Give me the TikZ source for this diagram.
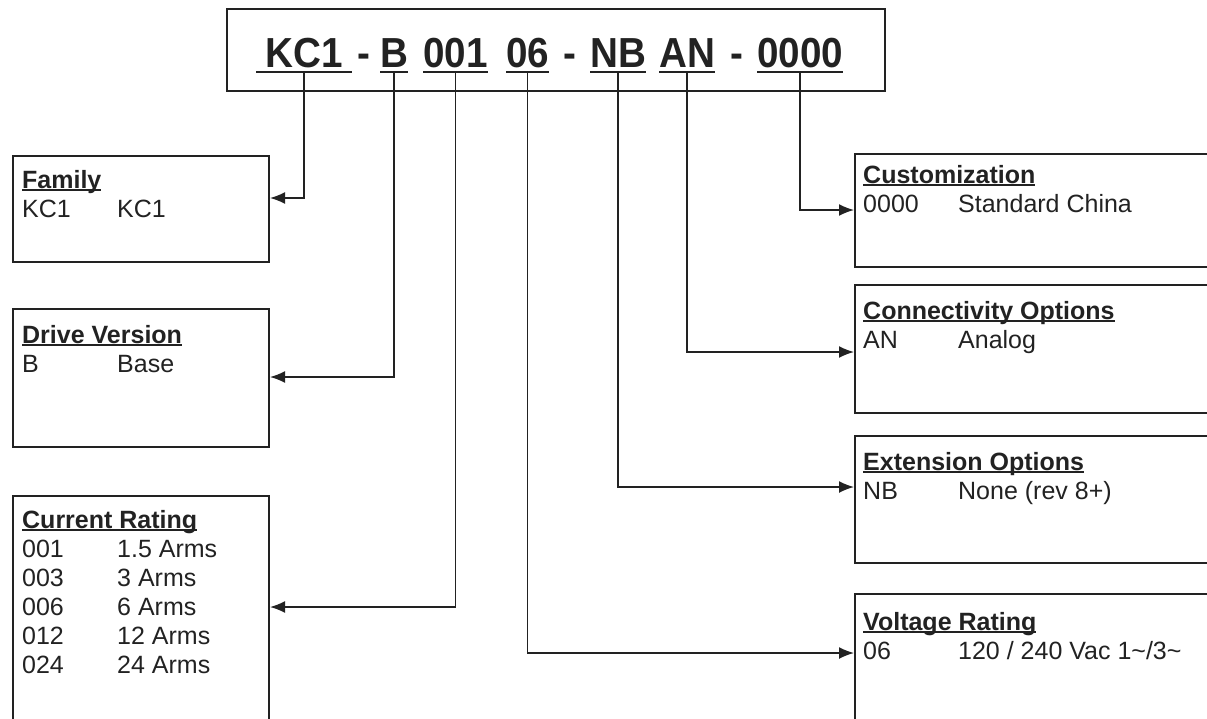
\documentclass[tikz,border=0pt]{standalone}
\usepackage{fontspec}
\setmainfont{Liberation Sans}
\newfontfamily\codefont[FakeStretch=0.92]{Liberation Sans}
\usetikzlibrary{arrows.meta}
\definecolor{ink}{HTML}{222222}
\newcommand{\ulhead}[1]{\setbox0\hbox{\bfseries #1}\rlap{\rule[-3pt]{\wd0}{1.6pt}}\box0}
\tikzset{
  code/.style={font=\codefont\bfseries\fontsize{42}{42}\selectfont, text=ink, inner xsep=0pt, inner ysep=0pt, text depth=5pt, anchor=base west},
  infobox/.style={draw=ink, line width=2pt, anchor=north west, inner sep=0pt, minimum width=256pt},
  boxtext/.style={font=\fontsize{25}{29}\selectfont, text=ink, inner sep=0pt, anchor=base west},
  conn/.style={->, draw=ink, line width=1.6pt},
  uline/.style={draw=ink, line width=2pt}
}
\begin{document}
\begin{tikzpicture}[x=1pt, y=-1pt, >={Latex[length=15pt,width=12pt]}]
    \useasboundingbox (0,0) rectangle (1207,718);
    \clip (0,0) rectangle (1207,718);

    % Part number
    \node[draw=ink, line width=2pt, anchor=north west, inner sep=0pt, minimum width=658pt, minimum height=82pt] (partno) at (226,8) {};
    \node[code, inner xsep=9pt] (c-kc1) at (256,67) {KC1};
    \node[code, anchor=base] (dash1) at (364,67) {-};
    \node[code] (c-b) at (380,67) {B};
    \node[code] (c-001) at (423,67) {001};
    \node[code] (c-06) at (506,67) {06};
    \node[code, anchor=base] (dash2) at (570,67) {-};
    \node[code] (c-nb) at (590,67) {NB};
    \node[code] (c-an) at (659,67) {AN};
    \node[code, anchor=base] (dash3) at (737,67) {-};
    \node[code] (c-0000) at (757,67) {0000};
    \foreach \n in {kc1,b,001,06,nb,an,0000}
      \draw[uline] (c-\n.south west) -- (c-\n.south east);

    % Left boxes
    \node[infobox, minimum height=106pt] (family) at (12,155) {};
    \node[boxtext] (family-t) at (22,188) {\begin{tabular}[t]{@{}p{83pt}l@{}}
      \multicolumn{2}{@{}l@{}}{\ulhead{Family}}\\ KC1 & KC1\end{tabular}};

    \node[infobox, minimum height=138pt] (drive) at (12,308) {};
    \node[boxtext] (drive-t) at (22,343) {\begin{tabular}[t]{@{}p{83pt}l@{}}
      \multicolumn{2}{@{}l@{}}{\ulhead{Drive Version}}\\ B & Base\end{tabular}};

    \node[infobox, minimum height=260pt] (current) at (12,495) {};
    \node[boxtext] (current-t) at (22,528) {\begin{tabular}[t]{@{}p{83pt}l@{}}
      \multicolumn{2}{@{}l@{}}{\ulhead{Current Rating}}\\
      001 & 1.5 Arms\\ 003 & 3 Arms\\ 006 & 6 Arms\\ 012 & 12 Arms\\ 024 & 24 Arms\end{tabular}};

    % Right boxes
    \node[infobox, minimum width=400pt, minimum height=113pt] (custom) at (854,153) {};
    \node[boxtext] (custom-t) at (863,183) {\begin{tabular}[t]{@{}p{83pt}l@{}}
      \multicolumn{2}{@{}l@{}}{\ulhead{Customization}}\\ 0000 & Standard China\end{tabular}};

    \node[infobox, minimum width=400pt, minimum height=128pt] (connect) at (854,284) {};
    \node[boxtext] (connect-t) at (863,319) {\begin{tabular}[t]{@{}p{83pt}l@{}}
      \multicolumn{2}{@{}l@{}}{\ulhead{Connectivity Options}}\\ AN & Analog\end{tabular}};

    \node[infobox, minimum width=400pt, minimum height=127pt] (extension) at (854,435) {};
    \node[boxtext] (extension-t) at (863,470) {\begin{tabular}[t]{@{}p{83pt}l@{}}
      \multicolumn{2}{@{}l@{}}{\ulhead{Extension Options}}\\ NB & None (rev 8+)\end{tabular}};

    \node[infobox, minimum width=400pt, minimum height=200pt] (voltage) at (854,593) {};
    \node[boxtext] (voltage-t) at (863,630) {\begin{tabular}[t]{@{}p{83pt}l@{}}
      \multicolumn{2}{@{}l@{}}{\ulhead{Voltage Rating}}\\ 06 & 120 / 240 Vac 1\textasciitilde/3\textasciitilde\end{tabular}};

    % Connectors
    \draw[conn] (c-kc1.south) |- (family.east |- 0,198);
    \draw[conn] (c-b.south) |- (drive.east |- 0,377);
    \draw[conn] (c-001.south) |- (current.east |- 0,607);
    \draw[conn] (c-06.south) |- (voltage.west |- 0,653);
    \draw[conn] (c-nb.south) |- (extension.west |- 0,487);
    \draw[conn] (c-an.south) |- (connect.west |- 0,352);
    \draw[conn] (c-0000.south) |- (custom.west |- 0,210);
\end{tikzpicture}
\end{document}
